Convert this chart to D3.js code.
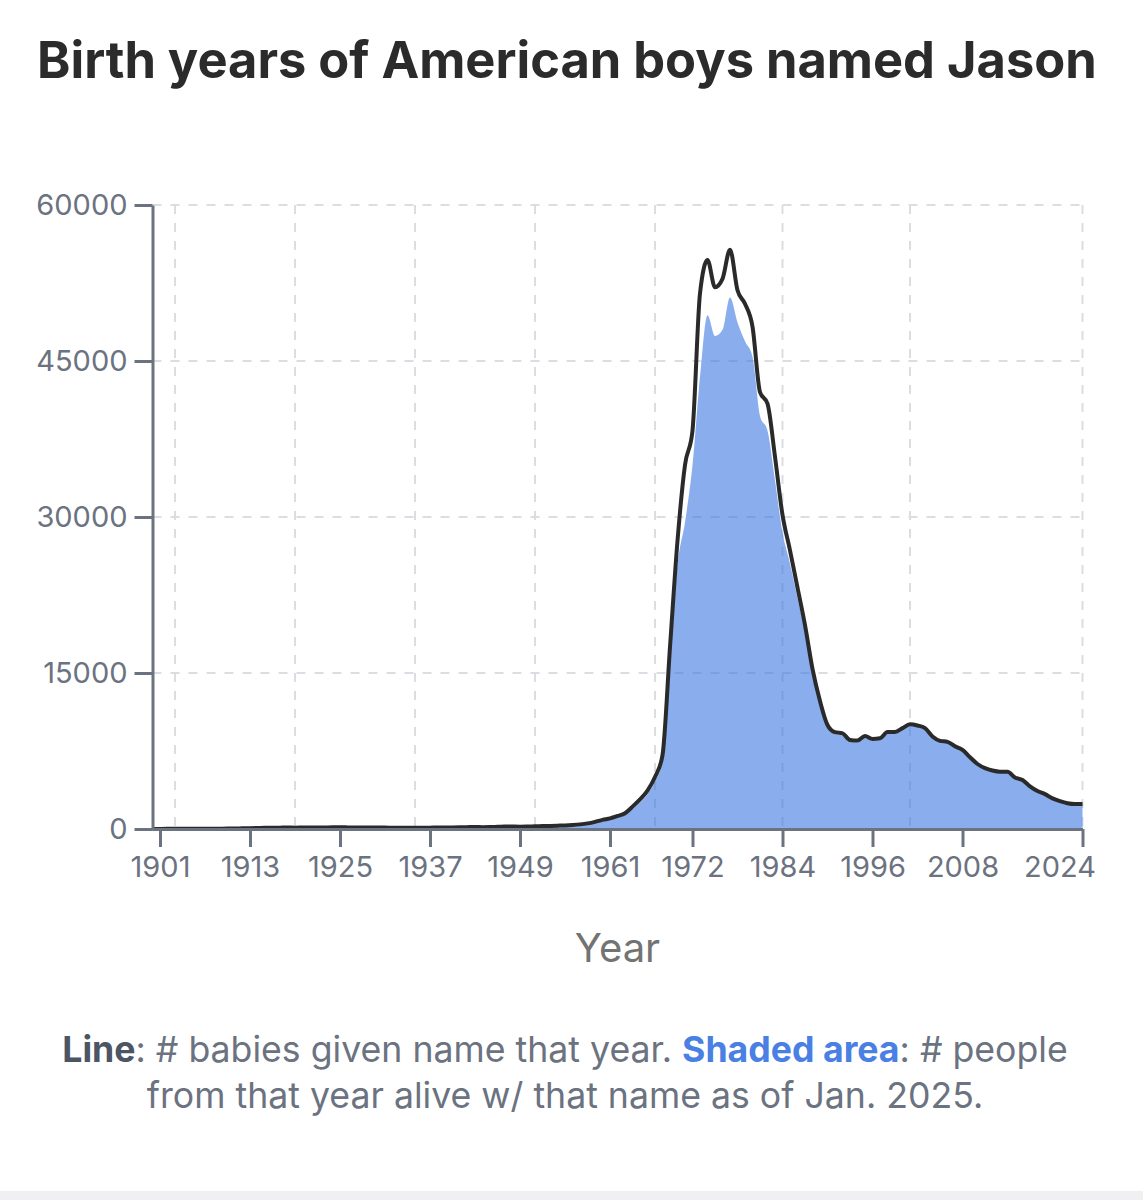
<!DOCTYPE html>
<html>
<head>
<meta charset="utf-8">
<script src="https://cdn.jsdelivr.net/npm/d3@7"></script>
<style>
    body { margin: 0; background: #ffffff; }
    svg { display: block; font-family: Inter, "Noto Sans", sans-serif; }
</style>
</head>
<body>
<svg id="jason-chart"></svg>
<script>
/*--------------------------------------------------------------------------------
----- AREA + LINE CHART (birth years of American boys named Jason)
--------------------------------------------------------------------------------*/

// First year of the series, every value below is one year after the previous one
const first_year = 1900;

// Line: number of babies given the name that year (1900 -> 2024)
const babies_named = [
    10, 12, 13, 15, 17, 20, 22, 25, 28, 34,
    40, 50, 68, 82, 98, 115, 120, 128, 138, 132,
    142, 148, 150, 154, 158, 160, 156, 150, 146, 140,
    138, 134, 128, 124, 128, 130, 126, 130, 136, 140,
    150, 162, 178, 188, 180, 182, 210, 238, 232, 228,
    240, 262, 280, 300, 322, 345, 385, 445, 540, 690,
    880, 1020, 1250, 1520, 2150, 2850, 3700, 5000, 7100, 17500,
    27700, 35000, 38300, 51500, 54700, 52100, 52900, 55700, 51800, 50500,
    48300, 42000, 40900, 35800, 30200, 26800, 23200, 19600, 15400, 12300,
    10000, 9300, 9200, 8560, 8500, 8940, 8650, 8720, 9330, 9330,
    9700, 10070, 9950, 9700, 8900, 8480, 8380, 7950, 7600, 6900,
    6250, 5850, 5620, 5510, 5510, 4950, 4710, 4100, 3650, 3350,
    2950, 2680, 2480, 2400, 2400
];

// Shaded area: number of people from that year still alive with the name (Jan. 2025)
const people_alive = [
    0, 0, 0, 0, 0, 0, 0, 0, 0, 0,
    0, 0, 0, 0, 0, 0, 0, 0, 0, 0,
    0, 0, 1, 1, 1, 2, 2, 3, 3, 4,
    5, 6, 7, 9, 12, 15, 18, 23, 28, 34,
    42, 52, 64, 75, 80, 88, 108, 130, 135, 140,
    155, 178, 196, 218, 240, 265, 305, 360, 445, 580,
    750, 880, 1090, 1340, 1920, 2560, 3350, 4560, 6500, 16000,
    25400, 29500, 35000, 43500, 49400, 47400, 48000, 51100, 48700, 46900,
    45400, 39700, 38300, 33500, 28500, 25500, 22200, 18900, 14900, 11950,
    9750, 9080, 9000, 8380, 8330, 8770, 8490, 8570, 9180, 9190,
    9560, 9930, 9820, 9580, 8800, 8390, 8290, 7870, 7530, 6840,
    6200, 5800, 5580, 5470, 5470, 4920, 4680, 4080, 3630, 3330,
    2930, 2660, 2470, 2390, 2390
];

// Tick labels and grid positions
const x_tick_years = [1901, 1913, 1925, 1937, 1949, 1961, 1972, 1984, 1996, 2008, 2024];
const x_grid_years = [1903, 1919, 1935, 1951, 1967, 1984, 2001, 2024];
const y_tick_values = [0, 15000, 30000, 45000, 60000];

// Texts
const chart_title = "Birth years of American boys named Jason";
const x_axis_title = "Year";
const legend_line_one = [
    { text: "Line", weight: 700, color: "#4b5563" },
    { text: ": # babies given name that year. ", weight: 400, color: "#6b7280" },
    { text: "Shaded area", weight: 700, color: "#4a7fe3" },
    { text: ": # people", weight: 400, color: "#6b7280" }
];
const legend_line_two = "from that year alive w/ that name as of Jan. 2025.";

// Build the dataset used by the generators
const jason_data = babies_named.map(function (d, i) {
    return { year: first_year + i, babies: d, alive: people_alive[i] };
});

// Dimensions of the picture
const chart_width = 1143, chart_height = 1200;

const svg = d3.select('#jason-chart')
    .attr('width', chart_width)
    .attr('height', chart_height);

// Scales
const x_scale = d3.scaleLinear()
    .domain([first_year, first_year + babies_named.length - 1])
    .range([152.5, 1082.5]);

const y_scale = d3.scaleLinear()
    .domain([0, 60000])
    .range([829, 205]);

// Helper to shrink / grow a text so it spans a given width
function fit_text(selection, target_width) {
    const size = parseFloat(selection.attr('font-size'));
    const width = selection.node().getComputedTextLength();
    selection.attr('font-size', (size * target_width / width).toFixed(2));
}

// Title
const title = svg.append('text')
    .attr('x', 37)
    .attr('y', 78)
    .attr('font-size', 46)
    .attr('font-weight', 700)
    .attr('fill', '#2b2b2b')
    .text(chart_title);
fit_text(title, 1060);

// Dashed grid (drawn first so the shaded area covers it)
const grid = svg.append('g').attr('class', 'grid')
    .attr('stroke', '#dcdde2')
    .attr('stroke-width', 2)
    .attr('stroke-dasharray', '9 9');

grid.selectAll('.h-grid')
    .data(y_tick_values.filter(function (d) { return d > 0; }))
    .enter()
    .append('line')
    .attr('x1', x_scale.range()[0])
    .attr('x2', x_scale.range()[1])
    .attr('y1', function (d) { return y_scale(d); })
    .attr('y2', function (d) { return y_scale(d); });

grid.selectAll('.v-grid')
    .data(x_grid_years)
    .enter()
    .append('line')
    .attr('x1', function (d) { return x_scale(d); })
    .attr('x2', function (d) { return x_scale(d); })
    .attr('y1', y_scale.range()[1])
    .attr('y2', y_scale.range()[0]);

// Shaded area (people still alive)
const alive_area = d3.area()
    .curve(d3.curveMonotoneX)
    .x(function (d) { return x_scale(d.year); })
    .y0(y_scale(0))
    .y1(function (d) { return y_scale(d.alive); });

svg.append('path')
    .datum(jason_data)
    .attr('d', alive_area)
    .attr('fill', '#3b76e1')
    .attr('fill-opacity', 0.6);

// Line (babies given the name)
const babies_line = d3.line()
    .curve(d3.curveMonotoneX)
    .x(function (d) { return x_scale(d.year); })
    .y(function (d) { return y_scale(d.babies); });

svg.append('path')
    .datum(jason_data)
    .attr('d', babies_line)
    .attr('fill', 'none')
    .attr('stroke', '#2a2a2a')
    .attr('stroke-width', 4)
    .attr('stroke-linejoin', 'round');

// Axes
const axis_color = '#6b7280';

const x_axis = svg.append('g')
    .attr('transform', 'translate(0,' + y_scale(0) + ')')
    .call(d3.axisBottom(x_scale)
        .tickValues(x_tick_years)
        .tickFormat(d3.format('d'))
        .tickSize(18)
        .tickSizeOuter(0)
        .tickPadding(9));

const y_axis = svg.append('g')
    .attr('transform', 'translate(' + x_scale.range()[0] + ',0)')
    .call(d3.axisLeft(y_scale)
        .tickValues(y_tick_values)
        .tickFormat(d3.format('d'))
        .tickSize(18)
        .tickSizeOuter(0)
        .tickPadding(7));

[x_axis, y_axis].forEach(function (axis) {
    axis.select('.domain').attr('stroke', axis_color).attr('stroke-width', 3);
    axis.selectAll('.tick line').attr('stroke', axis_color).attr('stroke-width', 3);
    axis.selectAll('.tick text')
        .attr('fill', axis_color)
        .style('font-family', 'Inter, "Noto Sans", sans-serif')
        .style('font-size', '29px');
});

// Keep the last year label inside the card, as in the original
x_axis.selectAll('.tick text')
    .filter(function (d) { return d === x_tick_years[x_tick_years.length - 1]; })
    .attr('x', -23);

// X axis title
svg.append('text')
    .attr('x', (x_scale.range()[0] + x_scale.range()[1]) / 2)
    .attr('y', 962)
    .attr('text-anchor', 'middle')
    .attr('font-size', 40)
    .attr('fill', '#737373')
    .text(x_axis_title);

// Legend explanation below the chart
const legend_center = 565;

const legend_first = svg.append('text')
    .attr('x', legend_center)
    .attr('y', 1062)
    .attr('text-anchor', 'middle')
    .attr('font-size', 31);

legend_first.selectAll('tspan')
    .data(legend_line_one)
    .enter()
    .append('tspan')
    .attr('font-weight', function (d) { return d.weight; })
    .attr('fill', function (d) { return d.color; })
    .text(function (d) { return d.text; });

fit_text(legend_first, 1006);

svg.append('text')
    .attr('x', legend_center)
    .attr('y', 1108)
    .attr('text-anchor', 'middle')
    .attr('font-size', legend_first.attr('font-size'))
    .attr('fill', '#6b7280')
    .text(legend_line_two);

// Light strip at the bottom of the card
svg.append('rect')
    .attr('x', 0)
    .attr('y', 1191)
    .attr('width', chart_width)
    .attr('height', 9)
    .attr('fill', '#f0f0f2');
</script>
</body>
</html>
